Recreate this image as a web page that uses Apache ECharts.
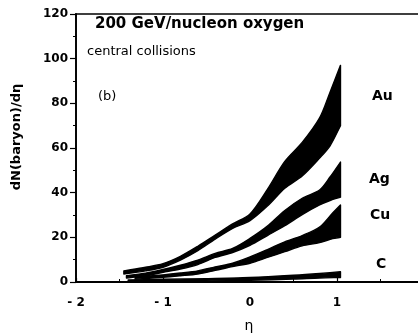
<!DOCTYPE html>
<html>
<head>
<meta charset="utf-8">
<style>
  html, body { margin: 0; padding: 0; background: #fff; }
  #chart { width: 418px; height: 334px; }
</style>
<script src="https://cdn.jsdelivr.net/npm/echarts@6/dist/echarts.min.js"></script>
</head>
<body>
<div id="chart"></div>
<script>
// Pseudorapidity grid and baryon density bands (lower / upper edge) per target
const auEta = [-1.45, -1.2, -1.0, -0.8, -0.6, -0.4, -0.2, 0, 0.2, 0.4, 0.6, 0.8, 0.92, 1.04];
const auHi  = [5.0, 6.6, 8.2, 11.5, 16, 21, 26, 30.5, 41.5, 54, 62.5, 73.5, 85, 97];
const auLo  = [3.6, 5.0, 6.6, 9.8, 14, 19.2, 24, 27.5, 34, 42, 47.5, 55.5, 61, 70];

const agEta = [-1.42, -1.2, -1.0, -0.8, -0.6, -0.4, -0.2, 0, 0.2, 0.4, 0.6, 0.8, 0.92, 1.04];
const agHi  = [2.8, 4.0, 5.6, 7.5, 9.8, 12.8, 15.0, 19.5, 25, 32, 37.5, 41.2, 47, 53.7];
const agLo  = [1.8, 2.8, 4.3, 5.8, 7.8, 11.0, 13.2, 16.4, 20.8, 25.2, 30.2, 34.5, 36.5, 38];

const cuEta = [-1.32, -1.0, -0.8, -0.6, -0.4, -0.2, 0, 0.2, 0.4, 0.6, 0.8, 0.95, 1.04];
const cuHi  = [2.3, 3.2, 4.0, 5.0, 6.8, 8.4, 11.2, 14.5, 18, 20.8, 24.6, 30.9, 34.5];
const cuLo  = [1.3, 2.1, 2.8, 3.6, 5.2, 6.9, 8.4, 11, 13.6, 16.2, 17.6, 19.4, 20];

const cEta = [-1.4, -1.0, -0.5, 0, 0.5, 0.8, 1.04];
const cHi  = [0.9, 1.2, 1.5, 2.0, 3.0, 3.8, 4.6];
const cLo  = [0.1, 0.3, 0.5, 0.8, 1.3, 1.8, 2.0];

// Axis ticks
const xTicks = [-2, -1, 0, 1, 2];
const yTicks = [0, 20, 40, 60, 80, 100, 120];

// Target labels placed at the right of each band
const targetNames = ['Au', 'Ag', 'Cu', 'C'];

const FONT = '"DejaVu Sans", sans-serif';

// Repeat the first and last point so the smoothed outline keeps sharp ends
function pinEnds(pts) {
  return [pts[0]].concat(pts, [pts[pts.length - 1]]);
}

// A filled band between the lower and upper curves, drawn once per series
function band(name, eta, lo, hi) {
  return {
    type: 'custom',
    name: name,
    coordinateSystem: 'cartesian2d',
    data: eta.map((e, i) => [e, lo[i], hi[i]]),
    encode: { x: 0, y: [1, 2] },
    renderItem: function (params, api) {
      if (params.dataIndex !== 0) return null;
      const top = eta.map((e, i) => api.coord([e, hi[i]]));
      const bottom = eta.map((e, i) => api.coord([e, lo[i]])).reverse();
      return {
        type: 'polygon',
        shape: { points: pinEnds(top).concat(pinEnds(bottom)), smooth: 0.3 },
        style: { fill: '#000', stroke: '#000', lineWidth: 1.4, lineJoin: 'round' }
      };
    },
    silent: true,
    z: 3
  };
}

const chart = echarts.init(document.getElementById('chart'), null, { renderer: 'canvas' });

chart.setOption({
  animation: false,
  backgroundColor: '#fff',
  grid: {
    left: 76, width: 348, top: 14, bottom: 52,
    outerBoundsMode: 'none',
    containLabel: false,
    show: true, borderColor: '#000', borderWidth: 1.5, backgroundColor: 'transparent'
  },
  xAxis: {
    type: 'value',
    min: xTicks[0], max: xTicks[xTicks.length - 1], interval: 1,
    axisLine: { show: true, onZero: false, lineStyle: { color: '#000', width: 1.8 } },
    axisTick: { show: true, inside: true, length: 4, lineStyle: { color: '#000', width: 1.2 } },
    minorTick: { show: true, splitNumber: 2, length: 3, lineStyle: { color: '#000', width: 1 } },
    splitLine: { show: false },
    axisLabel: {
      margin: 15,
      color: '#000',
      fontFamily: FONT, fontWeight: 'bold', fontSize: 12,
      formatter: v => (v < 0 ? '- ' + Math.abs(v) : String(v))
    }
  },
  yAxis: {
    type: 'value',
    min: yTicks[0], max: yTicks[yTicks.length - 1], interval: 20,
    axisLine: { show: true, onZero: false, lineStyle: { color: '#000', width: 1.8 } },
    axisTick: { show: true, inside: false, length: 6, lineStyle: { color: '#000', width: 1.2 } },
    minorTick: { show: true, splitNumber: 2, length: 3, lineStyle: { color: '#000', width: 1 } },
    splitLine: { show: false },
    axisLabel: {
      margin: 8,
      color: '#000',
      fontFamily: FONT, fontWeight: 'bold', fontSize: 12
    }
  },
  series: [
    band('Au', auEta, auLo, auHi),
    band('Ag', agEta, agLo, agHi),
    band('Cu', cuEta, cuLo, cuHi),
    band('C', cEta, cLo, cHi)
  ],
  graphic: [
    { type: 'text', left: 95, top: 17, style: { text: '200 GeV/nucleon oxygen', font: 'bold 15px ' + FONT, fill: '#000' } },
    { type: 'text', left: 87, top: 45, style: { text: 'central collisions', font: '13px ' + FONT, fill: '#000' } },
    { type: 'text', left: 98, top: 90, style: { text: '(b)', font: '13px ' + FONT, fill: '#000' } },
    { type: 'text', left: 372, top: 89, style: { text: targetNames[0], font: 'bold 14px ' + FONT, fill: '#000' } },
    { type: 'text', left: 369, top: 172, style: { text: targetNames[1], font: 'bold 14px ' + FONT, fill: '#000' } },
    { type: 'text', left: 370, top: 208, style: { text: targetNames[2], font: 'bold 14px ' + FONT, fill: '#000' } },
    { type: 'text', left: 376, top: 257, style: { text: targetNames[3], font: 'bold 14px ' + FONT, fill: '#000' } },
    {
      type: 'text', x: 17, y: 137, rotation: Math.PI / 2,
      style: { text: 'dN(baryon)/dη', font: 'bold 13px ' + FONT, fill: '#000', align: 'center', verticalAlign: 'middle' }
    },
    { type: 'text', x: 249, y: 326, style: { text: 'η', font: '14px ' + FONT, fill: '#000', align: 'center', verticalAlign: 'middle' } }
  ]
});
</script>
</body>
</html>
